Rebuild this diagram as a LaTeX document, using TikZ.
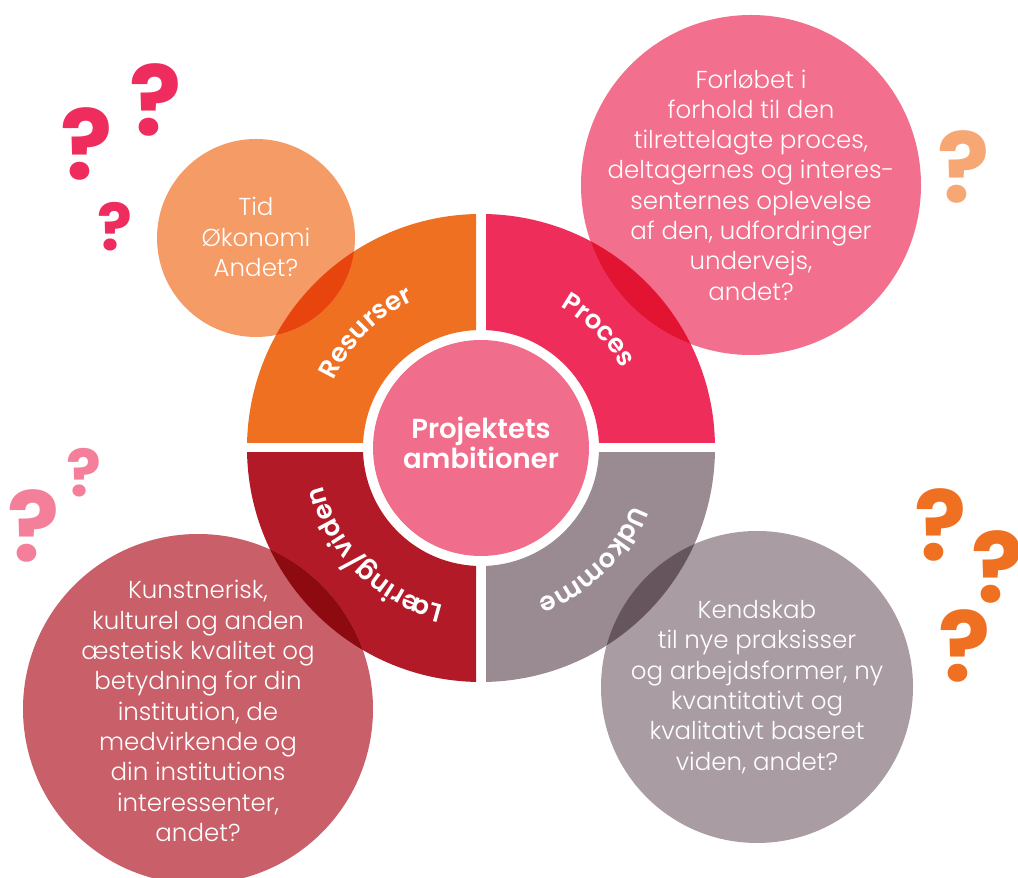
\documentclass[tikz,border=0pt]{standalone}
\usepackage{fontspec}
\setmainfont{Poppins Light}[BoldFont={Poppins SemiBold}]
\newfontfamily\qmfam{Poppins Bold}
\usetikzlibrary{decorations.text}
\definecolor{qOrange}{RGB}{240,112,34}
\definecolor{qProces}{RGB}{238,45,90}
\definecolor{qLaering}{RGB}{179,26,40}
\definecolor{qUdkomme}{RGB}{154,138,145}
\definecolor{cCenter}{RGB}{241,109,140}
\definecolor{bTid}{RGB}{245,155,102}
\definecolor{oTid}{RGB}{231,68,14}
\definecolor{bForl}{RGB}{242,112,142}
\definecolor{oForl}{RGB}{226,20,50}
\definecolor{bKunst}{RGB}{201,95,105}
\definecolor{oKunst}{RGB}{141,10,16}
\definecolor{bKend}{RGB}{169,157,163}
\definecolor{oKend}{RGB}{102,85,93}
\definecolor{qmPink}{RGB}{238,45,94}
\definecolor{qmLOrange}{RGB}{246,167,116}
\definecolor{qmLPink}{RGB}{244,127,155}
\definecolor{qmOrange}{RGB}{240,112,34}
\newcommand{\labfont}{\fontsize{26}{26}\selectfont\bfseries}
\begin{document}
\begin{tikzpicture}[x=1pt,y=1pt,
  bubtext/.style={text=white, align=center, inner sep=0pt, font=\fontsize{24.5}{30.3}\selectfont},
  qmark/.style={anchor=base, inner sep=0pt, font=\fontsize{97}{97}\selectfont\qmfam},
  qsmall/.style={anchor=base, inner sep=0pt, font=\fontsize{65}{65}\selectfont\qmfam},
  arclabel/.style={decorate, decoration={text along path, text align=center, text color=white, text={|\labfont|#1}}}
]
\useasboundingbox (0,0) rectangle (1018,878);
\clip (0,0) rectangle (1018,878);
\fill[white] (0,0) rectangle (1018,878);
\coordinate (c) at (481,430);

% quadrants
\begin{scope}\clip (241,435) rectangle (476,670);
\fill[qOrange, even odd rule] (481,430) circle[radius=234] (481,430) circle[radius=118];\end{scope}
\begin{scope}\clip (486,435) rectangle (721,670);
\fill[qProces, even odd rule] (481,430) circle[radius=234] (481,430) circle[radius=118];\end{scope}
\begin{scope}\clip (241,190) rectangle (476,425);
\fill[qLaering, even odd rule] (481,430) circle[radius=234] (481,430) circle[radius=118];\end{scope}
\begin{scope}\clip (486,190) rectangle (721,425);
\fill[qUdkomme, even odd rule] (481,430) circle[radius=234] (481,430) circle[radius=118];\end{scope}

% centre
\node[circle, fill=cCenter, minimum size=216pt, inner sep=0pt] (ctrc) at (c) {};
\node[text=white, align=center, inner sep=0pt, font=\fontsize{27.5}{28.5}\selectfont\bfseries] (ctr) at (481,435) {Projektets\\ambitioner};

% bubbles
\fill[bTid] (256,640) circle[radius=99];
\fill[bForl] (751,693) circle[radius=170];
\fill[bKunst] (198,169) circle[radius=175];
\fill[bKend] (757,191) circle[radius=156];

% overlaps
\begin{scope}\clip (256,640) circle[radius=99];\clip (241,435) rectangle (476,670);
\fill[oTid, even odd rule] (481,430) circle[radius=234] (481,430) circle[radius=118];\end{scope}
\begin{scope}\clip (751,693) circle[radius=170];\clip (486,435) rectangle (721,670);
\fill[oForl, even odd rule] (481,430) circle[radius=234] (481,430) circle[radius=118];\end{scope}
\begin{scope}\clip (198,169) circle[radius=175];\clip (241,190) rectangle (476,425);
\fill[oKunst, even odd rule] (481,430) circle[radius=234] (481,430) circle[radius=118];\end{scope}
\begin{scope}\clip (757,191) circle[radius=156];\clip (486,190) rectangle (721,425);
\fill[oKend, even odd rule] (481,430) circle[radius=234] (481,430) circle[radius=118];\end{scope}

% quadrant labels
\path[arclabel=Resurser] (319,430) arc[start angle=180, end angle=90, radius=162];
\path[arclabel=Proces] (481,592) arc[start angle=90, end angle=0, radius=162];
\path[arclabel=Udkomme] (643,430) arc[start angle=0, end angle=-90, radius=162];
\path[arclabel=Læring/viden] (481,268) arc[start angle=-90, end angle=-180, radius=162];

% bubble texts
\node[bubtext] (tid) at (256,641) {Tid\\Økonomi\\Andet?};
\node[bubtext] (forl) at (751,693) {Forløbet i\\forhold til den\\tilrettelagte proces,\\deltagernes og interes-\\senternes oplevelse\\af den, udfordringer\\undervejs,\\andet?};
\node[bubtext] (kunst) at (198,167) {Kunstnerisk,\\kulturel og anden\\æstetisk kvalitet og\\betydning for din\\institution, de\\medvirkende og\\din institutions\\interessenter,\\andet?};
\node[bubtext] (kend) at (757,191) {Kendskab\\til nye praksisser\\og arbejdsformer, ny\\kvantitativt og\\kvalitativt baseret\\viden, andet?};

% question marks
\node[qmark, text=qmPink] (q1) at (87,698) {?};
\node[qmark, text=qmPink] (q2) at (156,742) {?};
\node[qsmall, text=qmPink] (q3) at (115,627) {?};
\node[qmark, text=qmLOrange] (q4) at (964,675) {?};
\node[qmark, text=qmLPink] (q5) at (34,316) {?};
\node[qsmall, text=qmLPink] (q6) at (84,381) {?};
\node[qmark, text=qmOrange] (q7) at (941,317) {?};
\node[qmark, text=qmOrange] (q8) at (998,275) {?};
\node[qmark, text=qmOrange] (q9) at (965,196) {?};
\end{tikzpicture}
\end{document}
